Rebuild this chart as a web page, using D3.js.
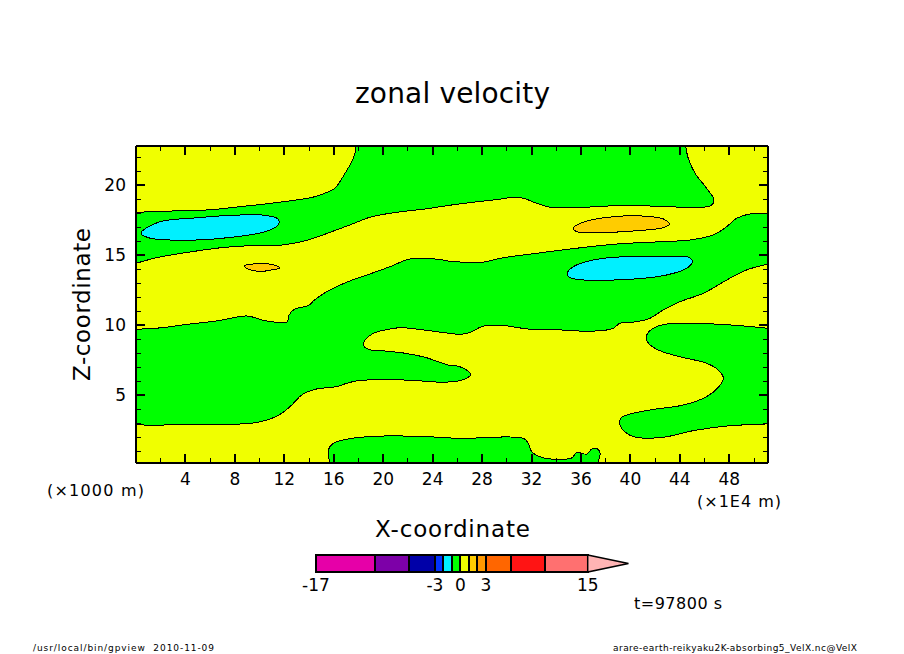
<!DOCTYPE html>
<html>
<head>
<meta charset="utf-8">
<script src="https://cdn.jsdelivr.net/npm/d3@7"></script>
<style>
body { margin: 0; background: #fff; }
text { font-family: "DejaVu Sans", sans-serif; fill: #000; }
.tick line, .domain { stroke: #000; shape-rendering: crispEdges; }
</style>
</head>
<body>
<div id="chart"></div>
<script>
// tick positions, x in 1E4 m, z in 1000 m
var xMajor = [4, 8, 12, 16, 20, 24, 28, 32, 36, 40, 44, 48];
var xMinor = [2, 6, 10, 14, 18, 22, 26, 30, 34, 38, 42, 46, 50];
var zMajor = [5, 10, 15, 20];
var zMinor = [1, 2, 3, 4, 6, 7, 8, 9, 11, 12, 13, 14, 16, 17, 18, 19, 21, 22];

// colour bar
var levels = [-17, -10, -6, -3, -2, -1, 0, 1, 2, 3, 6, 10, 15];
var levelColors = ["#e600a8", "#7d00a8", "#0000a8", "#0033ff", "#00f0ff", "#00ff00",
    "#f0ff00", "#ffcc00", "#ff9900", "#ff6600", "#ff1414", "#ff7070"];
var overColor = "#ffb4b4";
var overTip = 19.8;
var levelLabels = [-17, -3, 0, 3, 15];

// contour lines of the velocity field, [x, z]
var upperBandTop = [[0,18.06],[1.54,18.10],[3.56,18.17],[6.12,18.24],[8.25,18.44],[10.44,18.65],[12.60,18.89],[14.48,19.17],[15.53,19.51],[16.10,19.77],[16.91,20.84],[17.45,21.67],[17.72,22.27],[17.77,22.79]];
var upperBandBottom = [[44.47,22.79],[44.68,21.91],[45.23,20.84],[46.17,19.77],[46.76,18.94],[46.58,18.58],[45.87,18.41],[42.94,18.46],[40.51,18.53],[38.35,18.51],[36.17,18.41],[33.50,18.41],[32.42,18.70],[31.31,19.06],[30.50,19.13],[29.45,18.99],[27.27,18.77],[25.40,18.56],[23.38,18.29],[21.50,18.10],[19.07,17.74],[17.45,17.20],[15.83,16.67],[13.94,16.08],[12.06,15.74],[8.82,15.65],[6.93,15.53],[4.51,15.24],[1.80,14.84],[0,14.41]];
var mainBandTop = [[51.13,17.99],[49.68,17.94],[48.60,17.63],[47.79,17.03],[46.71,16.44],[44.82,16.08],[42.64,15.96],[38.89,15.79],[35.66,15.49],[32.42,15.13],[29.45,14.77],[28.07,14.49],[26.48,14.49],[25.40,14.56],[24.43,14.70],[22.82,14.77],[22.01,14.70],[20.69,14.22],[19.07,13.70],[17.15,13.10],[15.29,12.31],[14.43,11.79],[13.94,11.39],[12.86,11.15],[12.38,10.72],[12.24,10.24],[11.38,10.20],[10.44,10.31],[8.96,10.65],[6.63,10.31],[4.21,10.06],[2.08,9.81],[0,9.70]];
var mainBandBottom = [[0,2.94],[1.38,2.81],[2.99,2.91],[8.55,2.94],[9.87,3.06],[10.98,3.34],[11.79,3.70],[12.60,4.29],[13.41,5.01],[14.48,5.41],[16.34,5.62],[16.90,5.80],[17.98,6.03],[22.30,6.06],[24.03,5.94],[25.40,5.94],[26.21,6.03],[26.89,6.27],[27.08,6.51],[26.75,6.79],[26.08,7.06],[25.40,7.11],[23.38,7.70],[21.76,7.99],[20.15,8.15],[18.79,8.27],[18.39,8.58],[18.53,8.94],[19.20,9.41],[20.15,9.65],[21.36,9.81],[22.84,9.70],[25.40,9.41],[26.35,9.34],[27.16,9.53],[27.97,9.89],[29.45,9.99],[31.74,9.72],[34.44,9.65],[36.46,9.56],[38.08,9.65],[38.62,9.77],[39.15,10.13],[40.51,10.24],[41.59,10.49],[42.65,11.08],[44.01,11.67],[45.90,12.27],[47.79,13.22],[49.41,13.94],[51.13,14.36]];
var rightLobe = [[51.13,9.77],[48.06,10.01],[45.09,10.13],[42.94,10.08],[41.85,9.77],[41.32,9.29],[41.37,8.81],[42.13,8.27],[43.75,7.79],[46.17,7.27],[47.11,6.79],[47.52,6.20],[47.11,5.56],[46.17,4.89],[44.28,4.29],[42.13,4.01],[39.97,3.65],[39.21,3.34],[39.16,2.86],[39.70,2.27],[40.42,1.99],[42.66,1.99],[45.09,2.46],[47.79,2.79],[51.13,2.94]];
var bottomLobe = [[15.70,0.15],[15.56,1.08],[15.96,1.56],[17.45,1.91],[20.15,2.08],[23.52,2.03],[26.21,1.91],[31.34,1.91],[31.74,1.56],[32.01,0.96],[32.82,0.56],[34.04,0.41],[35.25,0.51],[35.65,0.89],[36.46,0.79],[36.87,1.15],[37.27,1.20],[37.54,0.84],[37.35,0.15]];
var cyanLeft = [[0.40,16.56],[1.80,17.34],[5.04,17.67],[7.74,17.84],[10.44,17.84],[11.51,17.56],[11.51,17.15],[10.44,16.67],[7.74,16.27],[5.04,16.08],[2.61,16.08],[1.00,16.24]];
var cyanRight = [[34.89,13.70],[35.38,14.17],[36.73,14.60],[38.62,14.84],[41.59,14.89],[44.01,14.89],[44.82,14.81],[45.01,14.53],[44.56,14.06],[42.94,13.58],[40.24,13.29],[35.66,13.27],[34.98,13.46]];
var goldSmall = [[8.76,14.22],[9.22,14.34],[10.98,14.34],[11.65,14.08],[10.98,13.94],[10.17,13.84],[9.09,13.99]];
var goldRight = [[35.38,16.91],[36.06,17.31],[38.62,17.74],[41.32,17.77],[42.66,17.58],[43.15,17.22],[42.66,16.96],[40.51,16.74],[37.27,16.60],[35.66,16.67]];

var svgWidth = 904;
var svgHeight = 654;

var svg = d3.select("#chart")
    .append("svg")
    .attr("width", svgWidth)
    .attr("height", svgHeight)
    .style("display", "block");

var xScale = d3.scaleLinear().domain([0, 51.13]).range([136, 768]);
var zScale = d3.scaleLinear().domain([0.15, 22.79]).range([463, 146]);
var barScale = d3.scaleLinear().domain([-17, 15]).range([316, 587.7]);

var colorOf = d3.scaleThreshold().domain(levels.slice(1, -1)).range(levelColors);

svg.append("clipPath").attr("id", "frame")
    .append("rect")
    .attr("x", 136).attr("y", 146)
    .attr("width", 632).attr("height", 317);

var field = svg.append("g").attr("clip-path", "url(#frame)");

// background level 0..1
field.append("rect")
    .attr("x", 136).attr("y", 146)
    .attr("width", 632).attr("height", 317)
    .attr("fill", colorOf(0.5));

var openLine = d3.line()
    .x(d => xScale(d[0]))
    .y(d => zScale(d[1]))
    .curve(d3.curveCatmullRom.alpha(0.5));

var closedLine = d3.line()
    .x(d => xScale(d[0]))
    .y(d => zScale(d[1]))
    .curve(d3.curveCatmullRomClosed.alpha(0.5));

// areas bounded by open contours and the frame: value, arcs
var openAreas = [
    [-0.5, [upperBandTop, upperBandBottom]],
    [-0.5, [mainBandTop, mainBandBottom]],
    [-0.5, [rightLobe]],
    [-0.5, [bottomLobe]]
];

openAreas.forEach(function(area) {
    var fillPath = area[1].map(function(arc, i) {
        var p = openLine(arc);
        return i > 0 ? "L" + p.slice(1) : p;
    }).join("") + "Z";
    field.append("path")
        .attr("d", fillPath)
        .attr("fill", colorOf(area[0]))
        .attr("shape-rendering", "crispEdges");
    area[1].forEach(function(arc) {
        field.append("path")
            .attr("d", openLine(arc))
            .attr("fill", "none")
            .attr("stroke", "#000")
            .attr("stroke-width", 1)
            .attr("shape-rendering", "crispEdges");
    });
});

// closed contours
var closedAreas = [[-1.5, cyanLeft], [-1.5, cyanRight], [1.5, goldSmall], [1.5, goldRight]];

field.selectAll("path.closed")
    .data(closedAreas)
    .enter()
    .append("path")
    .classed("closed", true)
    .attr("d", d => closedLine(d[1]))
    .attr("fill", d => colorOf(d[0]))
    .attr("stroke", "#000")
    .attr("stroke-width", 1)
    .attr("shape-rendering", "crispEdges");

// axes, all four sides
function drawAxis(axis, values, size, translate, showLabels) {
    var g = svg.append("g")
        .attr("transform", translate)
        .call(axis.offset(0).tickValues(values).tickSize(-size).tickSizeOuter(0).tickPadding(size == 9 ? 10 : 0)
            .tickFormat(showLabels ? d3.format("d") : ""));
    g.select(".domain").attr("stroke-width", 2);
    g.selectAll(".tick line").attr("stroke-width", size == 9 ? 2 : 1);
    g.selectAll("text").style("font-size", "17px").style("font-family", "DejaVu Sans");
}

drawAxis(d3.axisBottom(xScale), xMinor, 5, "translate(0,463)", false);
drawAxis(d3.axisBottom(xScale), xMajor, 9, "translate(0,463)", true);
drawAxis(d3.axisTop(xScale), xMinor, 5, "translate(0,146)", false);
drawAxis(d3.axisTop(xScale), xMajor, 9, "translate(0,146)", false);
drawAxis(d3.axisLeft(zScale), zMinor, 5, "translate(136,0)", false);
drawAxis(d3.axisLeft(zScale), zMajor, 9, "translate(136,0)", true);
drawAxis(d3.axisRight(zScale), zMinor, 5, "translate(768,0)", false);
drawAxis(d3.axisRight(zScale), zMajor, 9, "translate(768,0)", false);

// colour bar
var barTop = 555;
var barBottom = 572;
var barCells = d3.pairs(levels);

svg.selectAll("rect.cell")
    .data(barCells)
    .enter()
    .append("rect")
    .classed("cell", true)
    .attr("x", d => barScale(d[0]))
    .attr("y", barTop)
    .attr("width", d => barScale(d[1]) - barScale(d[0]))
    .attr("height", barBottom - barTop)
    .attr("fill", d => colorOf((d[0] + d[1]) / 2))
    .attr("stroke", "#000")
    .attr("stroke-width", 2)
    .attr("shape-rendering", "crispEdges");

var tipPoints = [
    [barScale(15), barTop],
    [barScale(overTip), (barTop + barBottom) / 2],
    [barScale(15), barBottom]
];

svg.append("polygon")
    .attr("points", tipPoints.map(p => p.join(",")).join(" "))
    .attr("fill", overColor)
    .attr("stroke", "#000")
    .attr("stroke-width", 1.5);

svg.selectAll("text.bar-label")
    .data(levelLabels)
    .enter()
    .append("text")
    .classed("bar-label", true)
    .attr("x", d => barScale(d))
    .attr("y", 591)
    .attr("text-anchor", "middle")
    .attr("font-size", "17px")
    .text(d => d);

// free text: label, x, baseline, width, font size
var labels = [
    ["zonal velocity", 355, 103, 195, 28],
    ["X-coordinate", 375, 537, 155, 23],
    ["(\u00d71000 m)", 47, 496, 97, 16],
    ["(\u00d71E4 m)", 697, 507, 84, 16],
    ["t=97800 s", 634, 609, 88, 16],
    ["/usr/local/bin/gpview  2010-11-09", 33, 651, 181, 9],
    ["arare-earth-reikyaku2K-absorbing5_VelX.nc@VelX", 613, 651, 244, 9]
];

svg.selectAll("text.label")
    .data(labels)
    .enter()
    .append("text")
    .classed("label", true)
    .attr("x", d => d[1])
    .attr("y", d => d[2])
    .attr("textLength", d => d[3])
    .attr("lengthAdjust", "spacing")
    .attr("font-size", d => d[4] + "px")
    .style("white-space", "pre")
    .text(d => d[0]);

svg.append("text")
    .attr("transform", "translate(90,381) rotate(-90)")
    .attr("textLength", 153)
    .attr("lengthAdjust", "spacing")
    .attr("font-size", "23px")
    .text("Z-coordinate");
</script>
</body>
</html>
